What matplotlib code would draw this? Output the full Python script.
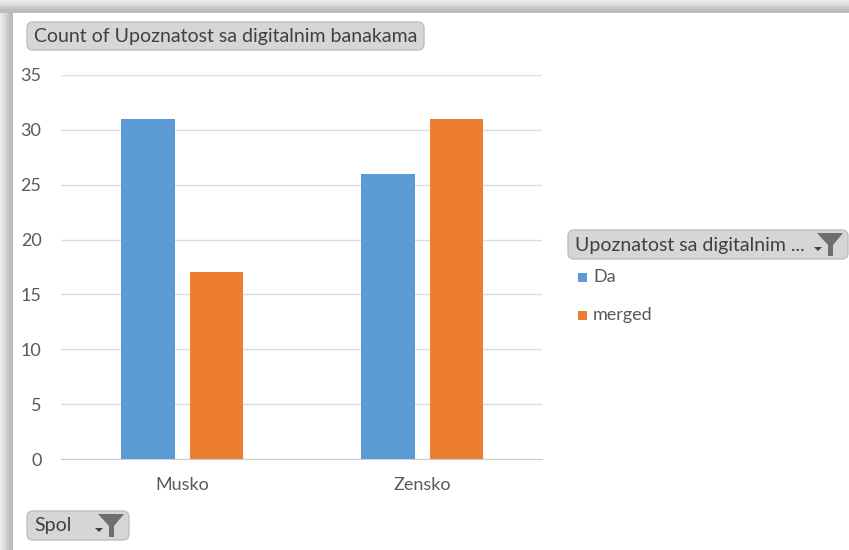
import numpy as np
import matplotlib
matplotlib.use('Agg')
import matplotlib.pyplot as plt
from matplotlib.patches import FancyBboxPatch, Rectangle, Polygon

categories = ['Musko', 'Zensko']
da = [31, 26]
merged = [17, 31]
yticks = [0, 5, 10, 15, 20, 25, 30, 35]
series_names = ['Da', 'merged']
colors = ['#5B9BD5', '#ED7D31']

W, H = 849, 550
plt.rcParams['font.family'] = ['Lato', 'DejaVu Sans']

fig = plt.figure(figsize=(W / 100, H / 100), dpi=100, facecolor='white')

# overlay in pixel coords for the window edge and the field buttons
bg = fig.add_axes([0, 0, 1, 1], zorder=0)
bg.set_xlim(0, W)
bg.set_ylim(H, 0)
bg.axis('off')
for i, c in enumerate(['#ececec', '#e6e6e6', '#dedede', '#d4d4d4', '#c8c8c8', '#bebebe', '#bcbcbc']):
    y0 = i * 2 - 1 if i else 0
    bg.add_patch(Rectangle((0, y0), W, 2.2, fc=c, ec='none'))
    bg.add_patch(Rectangle((y0, y0), 2.2, H - y0, fc=c, ec='none'))

ax = fig.add_axes([61 / W, (H - 459) / H, 481 / W, 384 / H], zorder=1)
ax.patch.set_alpha(0)
x = np.arange(len(categories))
ax.bar(x - 0.143, da, 0.224, color=colors[0])
ax.bar(x + 0.141, merged, 0.22, color=colors[1])
ax.set_xlim(-0.504, 1.496)
ax.set_ylim(0, 35)
ax.set_yticks(yticks)
ax.set_xticks(x)
ax.set_xticklabels(categories)
ax.grid(axis='y', color='#dcdcdc', lw=1)
ax.set_axisbelow(True)
for s in ['top', 'left', 'right']:
    ax.spines[s].set_visible(False)
ax.spines['bottom'].set_color('#d0d0d0')
ax.tick_params(axis='both', length=0, labelsize=13, labelcolor='#595959')
ax.tick_params(axis='x', pad=13)
ax.tick_params(axis='y', pad=14)

top = fig.add_axes([0, 0, 1, 1], zorder=2)
top.set_xlim(0, W)
top.set_ylim(H, 0)
top.axis('off')


def button(x0, y0, w, h, label, funnel=False):
    top.add_patch(FancyBboxPatch((x0 + 4, y0 + 4), w - 8, h - 8,
                                 boxstyle='round,pad=4,rounding_size=6',
                                 fc='#d6d6d6', ec='#c0c0c0', lw=1))
    top.text(x0 + 7, y0 + h / 2 + 0.5, label, fontsize=14, color='#404040',
             va='center', ha='left')
    if funnel:
        fx = x0 + w - 18
        ft = y0 + 3
        top.add_patch(Polygon([(fx - 13, ft), (fx + 13, ft), (fx + 3, ft + 12),
                               (fx + 3, ft + 23), (fx - 2, ft + 23), (fx - 2, ft + 12)],
                              fc='#6e6e6e', ec='none'))
        top.add_patch(Polygon([(fx - 16, ft + 14), (fx - 8, ft + 14), (fx - 12, ft + 18)],
                              fc='#404040', ec='none'))


button(27, 22, 397, 28, 'Count of Upoznatost sa digitalnim banakama')
button(568, 230, 280, 29, 'Upoznatost sa digitalnim ...', funnel=True)
button(27, 511, 102, 29, 'Spol', funnel=True)

for name, c, yy in zip(series_names, colors, [277, 315]):
    top.add_patch(Rectangle((578, yy - 4), 9, 9, fc=c, ec='none'))
    top.text(593, yy, name, fontsize=13, color='#595959', va='center', ha='left')

fig.savefig('out.png', dpi=100)
